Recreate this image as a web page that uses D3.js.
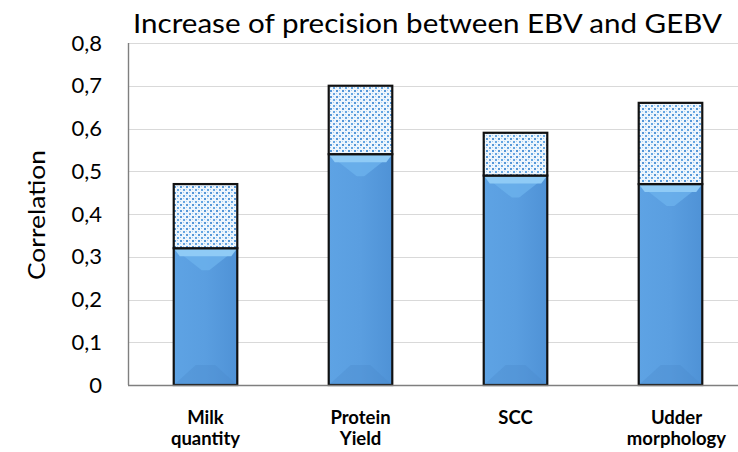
<!DOCTYPE html>
<html>
<head>
<meta charset="utf-8">
<script src="https://cdn.jsdelivr.net/npm/d3@7"></script>
<style>
  html, body { margin: 0; padding: 0; background: #fff; }
  svg { display: block; }
  text { font-family: Lato, "Open Sans", sans-serif; fill: #000; }
</style>
</head>
<body>
<svg id="chart" width="738" height="452"></svg>
<script>
// Trait categories (two-line labels)
const categories = ["Milk quantity", "Protein Yield", "SCC", "Udder morphology"];
const labelLines = [["Milk", "quantity"], ["Protein", "Yield"], ["SCC"], ["Udder", "morphology"]];
// Precision of EBV (lower segment) and GEBV (total bar height)
const ebv  = [0.32, 0.54, 0.49, 0.47];
const gebv = [0.47, 0.70, 0.59, 0.66];
const yTicks = [0, 0.1, 0.2, 0.3, 0.4, 0.5, 0.6, 0.7, 0.8];

const svg = d3.select("#chart");
const plotLeft = 128, plotTop = 43, plotBottom = 385, step = 155;

const x = d3.scaleBand().domain(categories)
  .range([plotLeft, plotLeft + step * categories.length]).paddingInner(0.59).paddingOuter(0.295);
const y = d3.scaleLinear().domain([0, 0.8]).range([plotBottom, plotTop]);

// defs: dotted pattern and bar gradient
const defs = svg.append("defs");
const pat = defs.append("pattern").attr("id", "dots")
  .attr("patternUnits", "userSpaceOnUse").attr("width", 6).attr("height", 6);
pat.append("rect").attr("width", 6).attr("height", 6).attr("fill", "#eef6fd");
pat.append("rect").attr("x", 0).attr("y", 0).attr("width", 2).attr("height", 2).attr("fill", "#5597d8");
pat.append("rect").attr("x", 3).attr("y", 3).attr("width", 2).attr("height", 2).attr("fill", "#64a5e2");
pat.append("rect").attr("x", 3).attr("y", 0).attr("width", 1).attr("height", 1).attr("fill", "#a9cff2");
pat.append("rect").attr("x", 0).attr("y", 3).attr("width", 1).attr("height", 1).attr("fill", "#a9cff2");

const grad = defs.append("linearGradient").attr("id", "body")
  .attr("x1", "0").attr("x2", "1").attr("y1", "0").attr("y2", "0");
grad.append("stop").attr("offset", "0").attr("stop-color", "#5ea3e4");
grad.append("stop").attr("offset", "0.5").attr("stop-color", "#5a9ee0");
grad.append("stop").attr("offset", "1").attr("stop-color", "#4f92d6");

// gridlines
svg.append("g").selectAll("line").data(yTicks.filter(d => d > 0)).join("line")
  .attr("x1", plotLeft).attr("x2", 738)
  .attr("y1", d => Math.round(y(d)) + 0.5).attr("y2", d => Math.round(y(d)) + 0.5)
  .attr("stroke", "#d9d9d9").attr("stroke-width", 1.2);

// y-axis via d3.axisLeft with tick marks hidden
const yAxis = svg.append("g").attr("transform", `translate(${plotLeft},0)`)
  .call(d3.axisLeft(y).tickValues(yTicks).tickSize(0).tickPadding(26)
    .tickFormat(d => d3.format(".1f")(d).replace(".", ",").replace(/^0,0$/, "0")));
yAxis.select(".domain").remove();
yAxis.selectAll("text").attr("font-size", 22).attr("font-family", "Lato, sans-serif").attr("fill", "#000");

const bars = svg.append("g");
categories.forEach((c, i) => {
  const x0 = x(c), w = x.bandwidth(), x1 = x0 + w;
  const yE = y(ebv[i]), yG = y(gebv[i]);
  const g = bars.append("g");
  // lower EBV segment
  g.append("rect").attr("x", x0).attr("y", yE).attr("width", w).attr("height", plotBottom - yE)
    .attr("fill", "url(#body)");
  const bh = 8;
  // top bevel
  g.append("polygon").attr("points", [[x0, yE], [x1, yE], [x1 - 28, yE + bh + 14], [x0 + 28, yE + bh + 14]].join(" "))
    .attr("fill", "#6cb1ec").attr("opacity", 0.8);
  g.append("polygon").attr("points", [[x0, yE], [x1, yE], [x1 - 6, yE + bh], [x0 + 6, yE + bh]].join(" "))
    .attr("fill", "#8fcbf6");
  // bottom bevel
  g.append("polygon").attr("points", [[x0, plotBottom], [x1, plotBottom], [x1 - 22, plotBottom - 20], [x0 + 22, plotBottom - 20]].join(" "))
    .attr("fill", "#4a89ca").attr("opacity", 0.35);
  g.append("rect").attr("x", x0).attr("y", yE).attr("width", w).attr("height", plotBottom - yE)
    .attr("fill", "none").attr("stroke", "#111").attr("stroke-width", 2.2);
  // upper GEBV increment segment
  g.append("rect").attr("x", x0).attr("y", yG).attr("width", w).attr("height", yE - yG)
    .attr("fill", "url(#dots)").attr("stroke", "#111").attr("stroke-width", 2.2);
});

// x baseline and y axis line
svg.append("line").attr("x1", plotLeft).attr("x2", 738).attr("y1", plotBottom + 0.5).attr("y2", plotBottom + 0.5)
  .attr("stroke", "#7f7f7f").attr("stroke-width", 1.6);
svg.append("line").attr("x1", plotLeft + 0.5).attr("x2", plotLeft + 0.5).attr("y1", plotTop).attr("y2", plotBottom)
  .attr("stroke", "#7f7f7f").attr("stroke-width", 1.4);

// category labels, one text element per line
const lab = svg.append("g");
categories.forEach((c, i) => {
  const cx = x(c) + x.bandwidth() / 2 + (i === 3 ? 6 : 0);
  labelLines[i].forEach((l, j) => {
    lab.append("text").attr("x", cx).attr("y", 424 + j * 21)
      .attr("text-anchor", "middle").attr("font-weight", "bold").attr("font-size", 18.5).text(l);
  });
});

// axis title
svg.append("text").attr("transform", "translate(45,215) rotate(-90)")
  .attr("text-anchor", "middle").attr("font-size", 23.5)
  .attr("textLength", 130).attr("lengthAdjust", "spacingAndGlyphs").text("Correlation");

// chart title
svg.append("text").attr("x", 427.5).attr("y", 33).attr("text-anchor", "middle")
  .attr("font-size", 26.5).attr("textLength", 589).attr("lengthAdjust", "spacingAndGlyphs")
  .text("Increase of precision between EBV and GEBV");
</script>
</body>
</html>
